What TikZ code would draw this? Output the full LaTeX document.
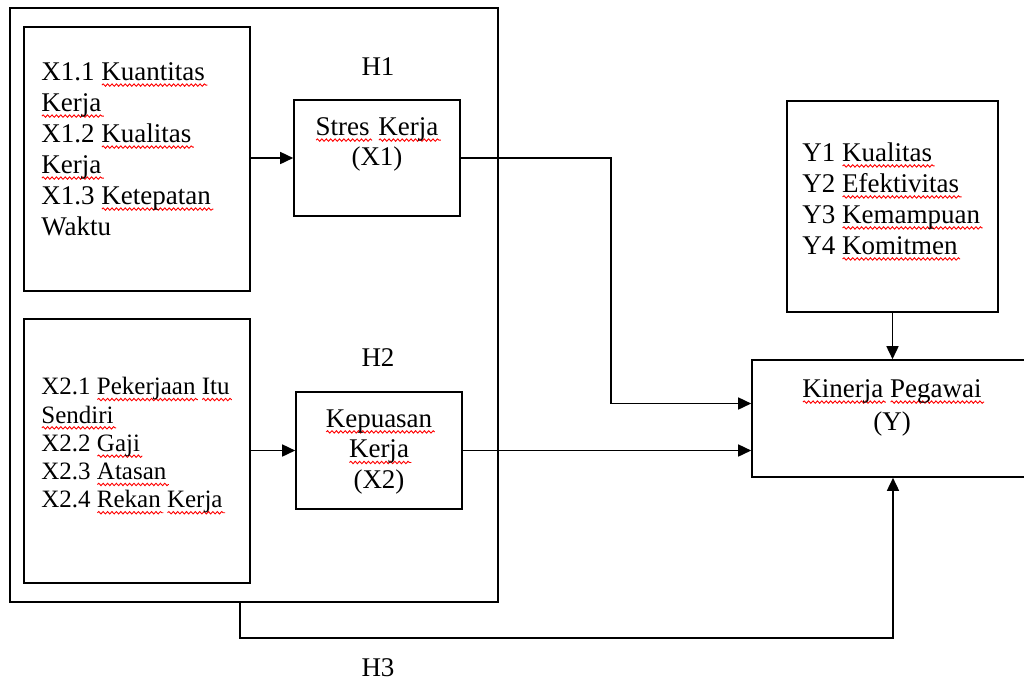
\documentclass[tikz,border=0pt]{standalone}
\usepackage{fontspec}
\setmainfont{Liberation Serif}
\usetikzlibrary{arrows.meta,positioning,decorations.pathmorphing}
\newlength{\sqw}
\newcommand{\sq}[1]{\settowidth{\sqw}{#1}\leavevmode\rlap{\raisebox{-2.4pt}[0pt][0pt]{\tikz[x=1pt,y=1pt,line width=.45pt,baseline=0pt]\draw[red,decorate,decoration={snake,amplitude=.6pt,segment length=2.2pt}] (0,0) -- (\sqw+1pt,0);}}#1}

\begin{document}
\begin{tikzpicture}[x=.5pt,y=-.5pt,font=\fontsize{13.5}{15.5}\selectfont,inner sep=0pt,line width=.8pt,
  box/.style={draw,rectangle,inner sep=0pt},
  arr/.style={-{Triangle[length=6.5pt,width=6pt]}},
  lst/.style={anchor=north west,align=left},
  ctr/.style={anchor=north,align=center}]
\useasboundingbox (0,0) rectangle (1024,682);
% boxes
\node[box,minimum width=244pt,minimum height=297pt] (outer) at (254,305) {};
\node[box,minimum width=113pt,minimum height=132pt] (indX1) at (137,159) {};
\node[box,minimum width=83pt,minimum height=58pt] (stres) at (377,158) {};
\node[box,minimum width=113pt,minimum height=132pt] (indX2) at (137,451) {};
\node[box,minimum width=83pt,minimum height=58.5pt] (puas) at (379,450.5) {};
\node[box,minimum width=105.5pt,minimum height=105.5pt] (indY) at (892.5,206.5) {};
\node[box,minimum width=139pt,minimum height=58.5pt] (kinerja) at (891,418.5) {};
% texts
\node[lst] (tX1) at (41,62) {X1.1 \sq{Kuantitas}\\\sq{Kerja}\\X1.2 \sq{Kualitas}\\\sq{Kerja}\\X1.3 \sq{Ketepatan}\\Waktu};
\node[lst,font=\fontsize{12.5}{14.15}\selectfont] (tX2) at (41,377) {X2.1 \sq{Pekerjaan} \sq{Itu}\\\sq{Sendiri}\\X2.2 \sq{Gaji}\\X2.3 \sq{Atasan}\\X2.4 \sq{Rekan} \sq{Kerja}};
\node[ctr,font=\fontsize{13.5}{15}\selectfont] (tstres) at (377,117) {\sq{Stres}\hspace{1pt} \sq{Kerja}\\(X1)};
\node[ctr,font=\fontsize{13.5}{15.3}\selectfont] (tpuas) at (379,409) {\sq{Kepuasan}\\\sq{Kerja}\\(X2)};
\node[lst] (tY) at (802,142) {Y1 \sq{Kualitas}\\Y2 \sq{Efektivitas}\\Y3 \sq{Kemampuan}\\Y4 \sq{Komitmen}};
\node[ctr,font=\fontsize{13.5}{16.5}\selectfont] (tkin) at (892,379) {\sq{Kinerja} \sq{Pegawai}\\(Y)};
\node (h1) at (378,67) {H1};
\node (h2) at (378,358) {H2};
\node (h3) at (378,668) {H3};
% connectors
\coordinate (bend) at (611,0);
\coordinate (k1) at ([yshift=7.5pt]kinerja.west);
\coordinate (h3a) at (240,602);
\coordinate (h3b) at (893,638);
\draw[arr] (indX1.east |- stres.west) -- (stres.west);
\draw[arr] (indX2.east |- puas.west) -- (puas.west);
\draw[arr] (stres.east) -| (bend |- k1) -- (k1);
\draw[arr] (puas.east) -- (puas.east -| kinerja.west);
\draw[arr] (indY.south) -- (indY.south |- kinerja.north);
\draw[arr] (h3a) |- (h3b) -- (h3b |- kinerja.south);
\end{tikzpicture}
\end{document}
